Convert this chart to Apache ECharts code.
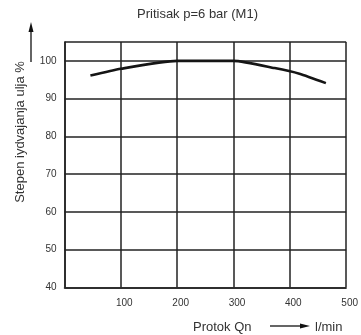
<!DOCTYPE html>
<html>
<head>
<meta charset="utf-8">
<script src="https://cdn.jsdelivr.net/npm/echarts@6/dist/echarts.min.js"></script>
<style>html,body{margin:0;padding:0;background:#fff}#c{width:361px;height:335px}</style>
</head>
<body>
<div id="c"></div>
<script>
var titleText = 'Pritisak p=6 bar (M1)';
var yName = 'Stepen iydvajanja ulja %';
var xName = 'Protok Qn';
var xUnit = 'l/min';
var flowX = [46, 100, 200, 300, 373, 417, 464];
var effY = [96.1, 97.9, 100, 100, 98.1, 96.6, 94.1];
var xTicks = [100, 200, 300, 400, 500];
var yTicks = [40, 50, 60, 70, 80, 90, 100];

var FONT = "'Liberation Sans', Arial, sans-serif";
var chart = echarts.init(document.getElementById('c'), null, {renderer: 'canvas'});
var data = flowX.map(function (x, i) { return [x, effY[i]]; });
chart.setOption({
  animation: false,
  backgroundColor: '#fff',
  grid: {left: 64.5, right: 13, top: 42, bottom: 47.7},
  xAxis: {
    type: 'value', min: 0, max: 500, interval: 100,
    axisLine: {show: true, lineStyle: {color: '#222', width: 1.5}},
    axisTick: {show: false},
    splitLine: {show: true, lineStyle: {color: '#222', width: 1.5}},
    axisLabel: {
      color: '#333', fontSize: 10, fontFamily: FONT, margin: 11, padding: [0, 0, 0, 7],
      formatter: function (v) { return xTicks.indexOf(v) >= 0 ? String(v) : ''; }
    }
  },
  yAxis: {
    type: 'value', min: 40, max: 105, interval: 10,
    axisLine: {show: true, lineStyle: {color: '#222', width: 1.5}},
    axisTick: {show: false},
    splitLine: {show: true, lineStyle: {color: '#222', width: 1.5}},
    axisLabel: {
      color: '#333', fontSize: 10, fontFamily: "'Liberation Sans Narrow', 'Arial Narrow', " + FONT, margin: 8,
      formatter: function (v) { return yTicks.indexOf(v) >= 0 ? String(v) : ''; }
    }
  },
  series: [{
    type: 'line', data: data, smooth: 0.2, symbol: 'none',
    lineStyle: {color: '#151515', width: 2.6}
  }],
  graphic: [
    {type: 'text', left: 137, top: 8, style: {text: titleText, font: '13px ' + FONT, fill: '#333'}},
    {type: 'text', x: 20, y: 132, rotation: Math.PI / 2,
      style: {text: yName, font: '13px ' + FONT, fill: '#333', align: 'center', verticalAlign: 'middle'}},
    {type: 'line', shape: {x1: 31, y1: 62, x2: 31, y2: 30}, style: {stroke: '#111', lineWidth: 1.3}},
    {type: 'polygon', shape: {points: [[31, 22], [28.5, 32], [33.5, 32]]}, style: {fill: '#111'}},
    {type: 'text', x: 193, y: 327, style: {text: xName, font: '13px ' + FONT, fill: '#333', verticalAlign: 'middle'}},
    {type: 'line', shape: {x1: 270, y1: 326, x2: 302, y2: 326}, style: {stroke: '#111', lineWidth: 1.3}},
    {type: 'polygon', shape: {points: [[310, 326], [300, 323.5], [300, 328.5]]}, style: {fill: '#111'}},
    {type: 'text', x: 315, y: 327, style: {text: xUnit, font: '13px ' + FONT, fill: '#333', verticalAlign: 'middle'}}
  ]
});
</script>
</body>
</html>
